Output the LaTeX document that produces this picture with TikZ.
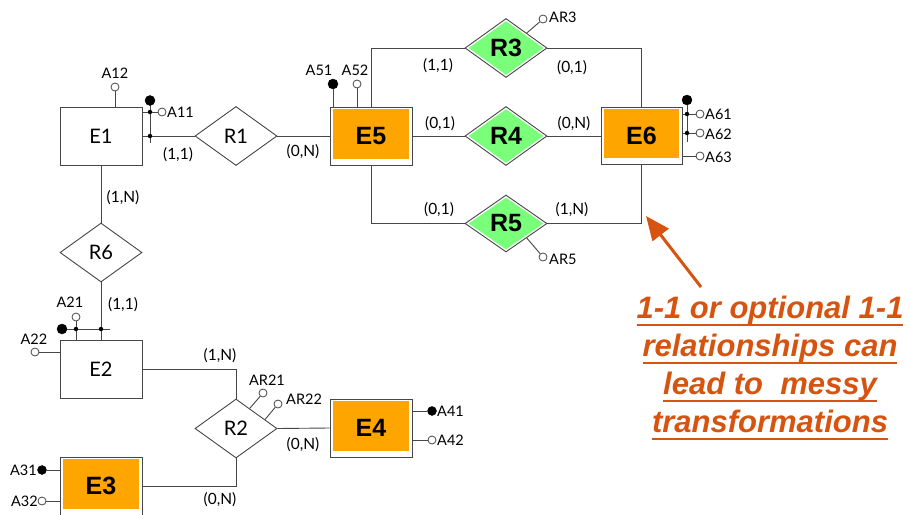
\documentclass[tikz,border=0pt]{standalone}
\usepackage{fontspec}
\setmainfont{Lato}
\newfontfamily\arialf{Liberation Sans}
\usetikzlibrary{shapes.geometric,arrows.meta,calc}
\definecolor{entor}{RGB}{255,165,0}
\definecolor{relgr}{RGB}{122,255,122}
\definecolor{notec}{RGB}{214,84,16}
\definecolor{ln}{RGB}{70,70,70}
\newcommand\myul[1]{\setbox0\hbox{#1}\rlap{\rule[-8pt]{\wd0}{2pt}}\box0}
\begin{document}
\begin{tikzpicture}[x=1pt,y=-1pt,
  conn/.style={draw=ln, line width=0.9pt},
  ent/.style={rectangle, draw=ln, line width=0.9pt, fill=white, minimum width=82pt, minimum height=58pt, inner sep=0pt, font=\fontsize{20}{22}\selectfont},
  oent/.style={ent, font=\arialf\bfseries\fontsize{25}{28}\selectfont,
    path picture={\fill[entor] ([xshift=3pt,yshift=-1.5pt]path picture bounding box.north west) rectangle ([xshift=-3.5pt,yshift=6.5pt]path picture bounding box.south east);}},
  rel/.style={diamond, draw=ln, line width=0.9pt, fill=white, minimum width=82pt, minimum height=59pt, inner sep=0pt, font=\fontsize{20}{22}\selectfont},
  grel/.style={rel, font=\arialf\bfseries\fontsize{25}{28}\selectfont,
    path picture={\fill[relgr] ([yshift=-2.5pt]path picture bounding box.north) -- ([xshift=-3.5pt]path picture bounding box.east) -- ([yshift=2.5pt]path picture bounding box.south) -- ([xshift=3.5pt]path picture bounding box.west) -- cycle;}},
  card/.style={font=\fontsize{15.5}{17}\selectfont, inner sep=0pt},
  att/.style={font=\fontsize{14.5}{16}\selectfont, inner sep=0pt},
  oatt/.style={circle, draw=ln, fill=white, line width=0.8pt, minimum size=8pt, inner sep=0pt},
  batt/.style={circle, draw=black, fill=black, minimum size=10pt, inner sep=0pt},
  dotn/.style={circle, fill=black, minimum size=4.5pt, inner sep=0pt}
]
\useasboundingbox (0,0) rectangle (910,514);

% entities and relationships
\node[ent] (e1) at (101,136) {E1};
\node[rel] (r1) at (236,136) {R1};
\node[oent] (e5) at (371,136) {E5};
\node[grel] (r3) at (506,48) {R3};
\node[grel] (r4) at (506,136) {R4};
\node[grel, minimum height=57pt] (r5) at (506,223.5) {R5};
\node[oent, minimum width=81pt, minimum height=57pt] (e6) at (641.5,135.5) {E6};
\node[rel] (r6) at (101,252.5) {R6};
\node[ent] (e2) at (101,369.5) {E2};
\node[rel] (r2) at (236,428.5) {R2};
\node[oent] (e4) at (371,428) {E4};
\node[oent] (e3) at (101,486) {E3};

% connectors
\draw[conn] (e1.east) -- (r1.west);
\draw[conn] (r1.east) -- (e5.west);
\draw[conn] (e5.north) |- (r3.west);
\draw[conn] (r3.east) -| (e6.north);
\draw[conn] (e5.east) -- (r4.west);
\draw[conn] (r4.east) -- (r4.east -| e6.west);
\draw[conn] (e5.south) |- (r5.west);
\draw[conn] (r5.east) -| (e6.south);
\draw[conn] (e1.south) -- (r6.north);
\draw[conn] (r6.south) -- (e2.north);
\draw[conn] (e2.east) -| (r2.north);
\draw[conn] (r2.east) -- (e4.west);
\draw[conn] (r2.south) |- (e3.east);

% cardinalities
\node[card] (c1) at (178,155) {(1,1)};
\node[card] (c2) at (303,152) {(0,N)};
\node[card] (c3) at (438,66) {(1,1)};
\node[card] (c4) at (572,68) {(0,1)};
\node[card] (c5) at (440,124) {(0,1)};
\node[card] (c6) at (574,124) {(0,N)};
\node[card] (c7) at (439,210) {(0,1)};
\node[card] (c8) at (572,210) {(1,N)};
\node[card] (c9) at (123,198) {(1,N)};
\node[card] (c10) at (123,305) {(1,1)};
\node[card] (c11) at (220,356) {(1,N)};
\node[card] (c12) at (303,445) {(0,N)};
\node[card] (c13) at (220,500) {(0,N)};

% E1 attributes
\node[oatt] (a12c) at (115,87) {};
\draw[conn] (a12c) -- (a12c |- e1.north);
\node[att] (a12) at (115,73) {A12};
\coordinate (a11end) at (150,143);
\draw[conn] (150,100.5) -- (a11end);
\node[batt] (a11b) at (150,100.5) {};
\node[dotn] (a11d1) at (150,112) {};
\node[dotn] (a11d2) at (150,136) {};
\draw[conn] (a11d1) -- (a11d1 -| e1.east);
\node[oatt] (a11c) at (162,112) {};
\draw[conn] (a11d1) -- (a11c);
\node[att, anchor=west] (a11) at (167,112) {A11};

% E5 attributes
\node[batt] (a51c) at (333,84) {};
\draw[conn] (a51c) -- (a51c |- e5.north);
\node[att] (a51) at (319,70) {A51};
\node[oatt] (a52c) at (357,84) {};
\draw[conn] (a52c) -- (a52c |- e5.north);
\node[att] (a52) at (355,70) {A52};

% R3 / R5 attributes
\node[oatt] (ar3c) at (543,19) {};
\draw[conn] (r3.north east) -- (ar3c);
\node[att, anchor=west] (ar3) at (549,17) {AR3};
\node[oatt] (ar5c) at (543,257) {};
\draw[conn] (r5.south east) -- (ar5c);
\node[att, anchor=west] (ar5) at (549,259) {AR5};

% E6 attributes
\coordinate (a6end) at (687,142);
\node[batt] (a6b) at (687,100) {};
\draw[conn] (a6b) -- (a6end);
\node[dotn] (a61d) at (687,114) {};
\node[dotn] (a62d) at (687,133) {};
\draw[conn] (a61d) -- (a61d -| e6.east);
\draw[conn] (a62d) -- (a62d -| e6.east);
\node[oatt] (a61c) at (700,114) {};
\node[oatt] (a62c) at (700,133) {};
\node[oatt] (a63c) at (700,156) {};
\draw[conn] (a61d) -- (a61c);
\draw[conn] (a62d) -- (a62c);
\draw[conn] (a63c) -- (a63c -| e6.east);
\node[att, anchor=west] (a61) at (705,114) {A61};
\node[att, anchor=west] (a62) at (705,134) {A62};
\node[att, anchor=west] (a63) at (705,157) {A63};

% E2 attributes
\coordinate (a2end) at (110,329);
\node[batt] (a2b) at (62,329) {};
\draw[conn] (a2b) -- (a2end);
\node[dotn] (a21d) at (76,329) {};
\node[dotn] (a2d2) at (101,329) {};
\draw[conn] (a21d) -- (a21d |- e2.north);
\node[oatt] (a21c) at (76,317) {};
\draw[conn] (a21d) -- (a21c);
\node[att] (a21) at (70,302) {A21};
\node[oatt] (a22c) at (35,352) {};
\draw[conn] (a22c) -- (a22c -| e2.west);
\node[att] (a22) at (34,339) {A22};

% R2 attributes
\node[oatt] (ar21c) at (263,393) {};
\draw[conn] ($(r2.north)!0.33!(r2.east)$) -- (ar21c);
\node[att] (ar21) at (267,380) {AR21};
\node[oatt] (ar22c) at (278,404) {};
\draw[conn] ($(r2.north)!0.7!(r2.east)$) -- (ar22c);
\node[att, anchor=west] (ar22) at (286,399) {AR22};

% E4 attributes
\node[batt, minimum size=9pt] (a41c) at (432,411) {};
\draw[conn] (a41c) -- (a41c -| e4.east);
\node[att, anchor=west] (a41) at (437,411) {A41};
\node[oatt] (a42c) at (432,440) {};
\draw[conn] (a42c) -- (a42c -| e4.east);
\node[att, anchor=west] (a42) at (437,440) {A42};

% E3 attributes
\node[batt, minimum size=9pt] (a31c) at (42,470) {};
\draw[conn] (a31c) -- (a31c -| e3.west);
\node[att, anchor=east] (a31) at (37,470) {A31};
\node[oatt] (a32c) at (42,501) {};
\draw[conn] (a32c) -- (a32c -| e3.west);
\node[att, anchor=east] (a32) at (38,501) {A32};

% annotation
\coordinate (tail) at (701,287);
\coordinate (tip) at (646,216);
\draw[draw=notec, line width=3pt, -{Triangle[length=24pt,width=20pt]}] (tail) -- (tip);
\node[font=\arialf\bfseries\itshape\fontsize{31}{38}\selectfont, text=notec, align=center, inner sep=0pt] (note) at (770,368)
  {\myul{1-1 or optional 1-1}\\ \myul{relationships can}\\ \myul{lead to\ \ messy}\\ \myul{transformations}};
\end{tikzpicture}
\end{document}
